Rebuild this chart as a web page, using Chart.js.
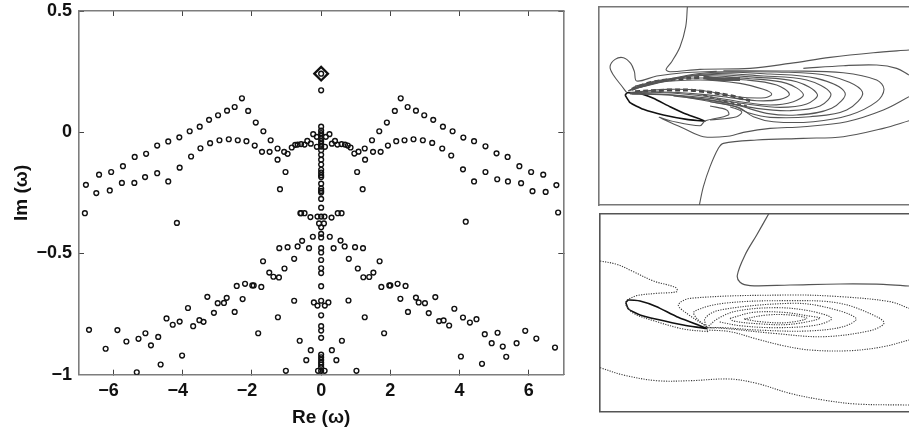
<!DOCTYPE html>
<html>
<head>
<meta charset="utf-8">
<script src="https://cdn.jsdelivr.net/npm/chart.js@4/dist/chart.umd.min.js"></script>
<style>
    html, body { margin: 0; padding: 0; background: #fff; width: 909px; height: 431px; overflow: hidden; }
    canvas { position: absolute; filter: blur(0.35px); }
</style>
</head>
<body>
<canvas id="spectrum" width="580" height="431" style="left:0;top:0"></canvas>
<canvas id="modeTop" width="319" height="215" style="left:590px;top:0"></canvas>
<canvas id="modeBottom" width="319" height="215" style="left:590px;top:205px"></canvas>
<script>
// spectrum eigenvalues, [Re, Im]
const upperLeft = [[-6.80,-0.217],[-6.42,-0.175],[-6.07,-0.164],[-5.73,-0.140],[-5.39,-0.102],[-5.06,-0.089],[-4.74,-0.055],[-4.42,-0.038],[-4.10,-0.021],[-3.80,0.004],[-3.51,0.023],[-3.24,0.051],[-2.98,0.070],[-2.72,0.089],[-2.50,0.104],[-2.29,0.140],[-2.11,0.088],[-1.89,0.040],[-1.67,0.004],[-1.46,-0.033],[-1.26,-0.067],[-1.07,-0.081],[-0.97,-0.089],[-0.85,-0.063],[-0.75,-0.052],[-0.68,-0.051]];
const lowerLeft = [[-6.50,-0.251],[-6.11,-0.240],[-5.76,-0.209],[-5.40,-0.209],[-5.09,-0.185],[-4.74,-0.169],[-4.42,-0.203],[-4.09,-0.146],[-3.76,-0.100],[-3.49,-0.066],[-3.21,-0.045],[-2.94,-0.033],[-2.67,-0.029],[-2.41,-0.033],[-2.16,-0.037],[-1.92,-0.055],[-1.71,-0.081],[-1.49,-0.081],[-1.26,-0.113],[-1.03,-0.164],[-1.19,-0.235],[-6.83,-0.334]];
const upperRight = [[1.26,-0.067],[1.47,-0.033],[1.68,0.004],[1.90,0.040],[2.13,0.088],[2.30,0.140],[2.50,0.104],[2.74,0.089],[2.98,0.070],[3.24,0.051],[3.52,0.023],[3.80,0.004],[4.11,-0.022],[4.42,-0.037],[4.75,-0.058],[5.07,-0.087],[5.39,-0.102],[5.73,-0.140],[6.07,-0.164],[6.42,-0.175],[6.80,-0.218],[6.85,-0.331]];
const lowerRight = [[1.50,-0.081],[1.72,-0.081],[1.93,-0.055],[2.17,-0.037],[2.41,-0.033],[2.67,-0.029],[2.94,-0.033],[3.21,-0.044],[3.50,-0.067],[3.76,-0.096],[4.10,-0.153],[4.42,-0.203],[4.75,-0.164],[5.09,-0.194],[5.40,-0.203],[5.78,-0.210],[6.11,-0.243],[6.49,-0.246],[1.27,-0.113],[1.04,-0.164],[1.20,-0.235]];
const innerArch = [[1.08,-0.080],[0.96,-0.088],[0.85,-0.063],[0.77,-0.055],[0.69,-0.051],[0.59,-0.049],[0.47,-0.051],[0.40,-0.036],[0.31,-0.047],[0.24,-0.008],[0.135,-0.019],[0.11,-0.060],[-0.23,-0.008],[-0.125,-0.019],[-0.125,-0.060],[-0.30,-0.047],[-0.40,-0.036],[-0.48,-0.051],[-0.58,-0.049]];
const centerColumn = [[0,0.173],[0,0.2415],[0,0.023],[0,0.007],[0,-0.004],[0,-0.015],[0,-0.026],[0,-0.037],[0,-0.048],[0,-0.059],[0,-0.074],[0,-0.093],[0,-0.113],[0,-0.133],[0,-0.155],[0,-0.166],[0,-0.177],[0,-0.185],[0,-0.212],[0,-0.232],[0,-0.242],[0,-0.249],[0,-0.275],[0,-0.311],[0,-0.348],[0,-0.392],[0,-0.419],[0,-0.434],[0,-0.478],[0,-0.496],[0,-0.527],[0,-0.561],[0,-0.581],[0,-0.635],[0,-0.695],[0,-0.755],[0,-0.800],[0,-0.818],[0,-0.848],[0,-0.917],[0,-0.928],[0,-0.939],[0,-0.950],[0,-0.959],[0,-0.969],[0,-0.984]];
const middleRows = [[-0.58,-0.334],[-0.48,-0.334],[0.48,-0.334],[0.59,-0.334],[-0.31,-0.350],[-0.106,-0.348],[0.096,-0.348],[0.30,-0.352],[-0.06,-0.376],[0.08,-0.376],[-0.24,-0.431],[0.25,-0.431],[-0.55,-0.448],[0.56,-0.447],[-0.35,-0.478],[0.36,-0.478],[0.68,-0.471],[0.98,-0.474],[1.21,-0.478],[0.80,-0.522],[1.06,-0.562],[-0.21,-0.702],[-0.106,-0.715],[0.106,-0.715],[0.21,-0.702],[0.79,-0.694],[0.60,-0.860],[0.31,-0.899],[-0.30,-0.899],[-0.43,-0.940],[0.44,-0.940],[-0.09,-0.984],[0.10,-0.984],[1.02,-0.984],[1.26,-0.763],[1.82,-0.829],[-0.6,-0.334],[4.18,-0.369],[-4.17,-0.374]];
const fanRight = [[1.69,-0.532],[1.22,-0.598],[1.39,-0.597],[1.51,-0.579],[1.74,-0.638],[1.97,-0.632],[2.00,-0.632],[2.21,-0.625],[2.44,-0.634],[2.29,-0.687],[2.74,-0.682],[2.82,-0.702],[3.00,-0.705],[3.30,-0.680],[2.51,-0.741],[3.11,-0.746],[3.41,-0.779],[3.54,-0.776],[3.70,-0.797],[3.85,-0.728],[4.10,-0.764],[4.30,-0.785],[4.49,-0.771],[4.73,-0.833],[5.10,-0.827],[4.93,-0.870],[5.25,-0.884],[5.65,-0.870],[5.90,-0.819],[6.22,-0.851],[6.76,-0.888],[5.35,-0.926],[4.04,-0.925],[4.65,-0.955]];
const fanLeft = [[-6.71,-0.815],[-6.23,-0.893],[-5.89,-0.816],[-5.63,-0.863],[-5.28,-0.852],[-5.08,-0.829],[-4.92,-0.879],[-4.71,-0.844],[-4.47,-0.768],[-4.29,-0.794],[-4.09,-0.781],[-3.85,-0.725],[-3.70,-0.800],[-3.52,-0.775],[-3.40,-0.782],[-3.29,-0.679],[-3.10,-0.745],[-2.99,-0.705],[-2.81,-0.704],[-2.73,-0.683],[-2.50,-0.741],[-2.27,-0.688],[-2.44,-0.634],[-2.20,-0.625],[-1.99,-0.632],[-1.95,-0.632],[-1.73,-0.638],[-1.82,-0.829],[-1.68,-0.532],[-1.50,-0.579],[-1.38,-0.596],[-1.22,-0.599],[-1.06,-0.562],[-0.78,-0.522],[-1.21,-0.478],[-0.97,-0.474],[-0.68,-0.471],[-0.78,-0.695],[-1.25,-0.763],[-0.62,-0.860],[-1.02,-0.984],[-4.02,-0.921],[-4.64,-0.958],[-5.33,-0.990]];
const unstableMode = [[0,0.2415]];

const xTicks = [-6, -4, -2, 0, 2, 4, 6];
// figure space keeps the digit, not the minus sign, over the tick like in the original
const xTickLabels = ['\u22126\u2007', '\u22124\u2007', '\u22122\u2007', '0', '2', '4', '6'];
const yTicks = [-1, -0.5, 0, 0.5];
const yTickLabels = ['\u22121', '\u22120.5', '0', '0.5'];

// upper mode plot, contours in picture units
const topFoil = [[105,285],[112,278],[150,280],[190,295],[240,320],[290,343],[345,363],[290,358],[220,345],[160,328],[120,308],[105,285]];
const topLobe = [[110,278],[95,258],[70,225],[60,200],[75,178],[100,173],[122,190],[133,215],[140,243],[200,228],[280,218],[380,214]];
const topFarLine = [[292,20],[287,80],[270,140],[245,185],[228,208],[240,215],[330,208],[480,205],[600,190],[720,172],[850,158],[957,150]];
const topBottomLine = [[328,615],[340,560],[360,500],[385,445],[400,430],[500,420],[640,415],[760,410],[880,385],[957,362]];
const contour1 = [[115,272],[200,248],[330,240],[450,250],[520,268],[545,282],[525,293],[440,290],[340,272],[230,268],[120,278]];
const contour2 = [[115,272],[200,242],[330,234],[470,240],[560,255],[598,282],[570,298],[500,302],[400,290],[300,280],[200,275],[118,280]];
const contour3 = [[120,270],[300,228],[480,236],[590,250],[640,283],[610,305],[540,315],[450,305],[340,288],[220,278],[120,282]];
const contour4 = [[125,268],[330,225],[500,232],[620,245],[682,283],[650,312],[570,322],[470,312],[360,295],[250,285],[125,280]];
const contour5 = [[130,262],[340,222],[520,228],[650,240],[722,280],[690,318],[600,332],[500,325],[380,303],[250,286],[125,282]];
const contour6 = [[135,258],[350,218],[540,222],[680,235],[765,278],[725,325],[620,345],[530,340],[440,315],[340,298],[250,288]];
const contour7 = [[360,216],[560,216],[720,228],[817,275],[770,330],[660,350],[540,352],[480,340],[430,318],[380,308],[290,292]];
const contour8 = [[400,212],[600,213],[760,218],[860,240],[882,268],[860,305],[780,345],[670,365],[550,365],[490,350],[445,322],[360,305]];
const contour9 = [[640,205],[760,197],[860,195],[920,205],[957,225]];
const contour9Back = [[957,290],[880,330],[770,365],[640,380],[540,385],[460,397],[420,408],[340,410],[280,385],[208,352],[240,362],[330,377],[345,363],[415,345],[410,330],[360,318]];
const innerHook = [[360,360],[440,350],[455,335],[420,320]];
const denseCore = [[340,232],[380,237],[450,237]];
const hatchRow1 = [[125,268],[180,248],[250,238],[330,232]];
const hatchRow2 = [[135,275],[240,270],[320,272],[420,287],[480,302]];
const hatchRow3 = [[340,285],[400,302],[470,318]];

// lower mode plot
const lowFoil = [[107,292],[115,285],[150,288],[200,305],[260,335],[350,370],[280,360],[200,343],[150,330],[115,312],[107,292]];
const lowSolid = [[537,25],[500,90],[465,150],[442,210],[450,232],[480,242],[600,240],[750,237],[880,238],[957,243]];
const lowDotLeft = [[30,168],[80,178],[130,200],[190,228],[258,248],[260,260],[200,265],[140,272],[110,285]];
const lowDotFoil = [[107,300],[130,325],[200,350],[280,372],[355,380]];
const lowDotWake = [[350,375],[420,380],[500,402],[580,422],[660,435],[780,437],[880,425],[957,405]];
const lowDotOuter = [[350,365],[290,325],[265,300],[300,280],[600,270],[750,275],[900,290],[957,310]];
const lowDot2 = [[350,365],[320,340],[312,320],[400,295],[600,287],[750,295],[860,335],[882,355],[840,377],[700,395],[550,385],[400,370],[350,368]];
const lowDot3 = [[350,368],[345,340],[390,315],[600,295],[700,305],[798,340],[760,365],[650,378],[500,375],[400,368],[350,368]];
const lowDot4 = [[350,368],[385,340],[440,318],[560,308],[660,318],[725,340],[680,360],[560,368],[450,362],[385,350]];
const lowDot5 = [[420,340],[490,322],[580,322],[650,332],[690,340],[600,358],[500,356],[430,348],[420,340]];
const lowDot6 = [[462,342],[530,330],[600,330],[650,340],[590,353],[510,350],[462,342]];
const lowDotFar = [[30,488],[100,510],[200,527],[300,527],[420,522],[500,535],[600,565],[700,585],[800,597],[957,600]];

const toPoints = list => list.map(p => ({ x: p[0], y: p[1] }));
const boldFont = { family: "'Liberation Sans', Arial, sans-serif", size: 18, weight: 'bold' };
const titleFont = { family: "'Liberation Sans', Arial, sans-serif", size: 19, weight: 'bold' };
const frameColor = '#7d7d7d';
const tickColor = '#444';

// tick labels must not push the plot area around
function noPadding(s) {
    s.paddingTop = 0;
    s.paddingBottom = 0;
    s.paddingLeft = 0;
    s.paddingRight = 0;
}

// secondary axes only carry the frame and the inward ticks
function frameAxis(position, ticks, fit) {
    return {
        type: 'linear',
        position: position,
        afterFit: fit,
        afterBuildTicks: s => { s.ticks = ticks.map(v => ({ value: v })); },
        border: { display: true, color: frameColor, width: 1.6 },
        grid: { drawOnChartArea: false, tickLength: -5, tickColor: tickColor, tickWidth: 1 },
        ticks: { display: false }
    };
}

const scatterSets = [upperLeft, lowerLeft, upperRight, lowerRight, innerArch, centerColumn, middleRows, fanRight, fanLeft];

new Chart(document.getElementById('spectrum'), {
    type: 'scatter',
    data: {
        datasets: [
            {
                data: toPoints(scatterSets.flat()),
                pointStyle: 'circle',
                pointRadius: 2.4,
                borderColor: '#111',
                borderWidth: 1.4,
                backgroundColor: 'rgba(0,0,0,0)'
            },
            {
                data: toPoints(unstableMode),
                pointStyle: 'rectRot',
                pointRadius: 6.8,
                borderColor: '#111',
                borderWidth: 2.3,
                backgroundColor: 'rgba(0,0,0,0)'
            }
        ]
    },
    options: {
        responsive: false,
        animation: false,
        layout: { autoPadding: false, padding: { top: 11, right: 16.7, left: 0, bottom: 0 } },
        plugins: { legend: { display: false }, tooltip: { enabled: false } },
        scales: {
            x: {
                type: 'linear',
                min: -7,
                max: 7,
                afterFit: s => { s.height = 56.3; noPadding(s); },
                afterBuildTicks: s => { s.ticks = xTicks.map(v => ({ value: v })); },
                border: { color: frameColor, width: 1.6 },
                grid: { drawOnChartArea: false, tickLength: -5, tickColor: tickColor },
                ticks: { color: '#111', font: boldFont, padding: 11, maxRotation: 0, autoSkip: false, callback: (v, i) => xTickLabels[i] },
                title: { display: true, text: 'Re (\u03c9)', color: '#111', font: titleFont, padding: { top: 6, bottom: 2 } }
            },
            y: {
                type: 'linear',
                min: -1,
                max: 0.5,
                afterFit: s => { s.width = 79; noPadding(s); },
                afterBuildTicks: s => { s.ticks = yTicks.map(v => ({ value: v })); },
                border: { color: frameColor, width: 1.6 },
                grid: { drawOnChartArea: false, tickLength: -5, tickColor: tickColor },
                ticks: { color: '#111', font: boldFont, padding: 12, autoSkip: false, callback: (v, i) => yTickLabels[i] },
                title: { display: true, text: 'Im (\u03c9)', color: '#111', font: titleFont, padding: { top: 10, bottom: 0 } }
            },
            x2: Object.assign(frameAxis('top', xTicks, s => { s.height = 0; noPadding(s); }), { min: -7, max: 7 }),
            y2: Object.assign(frameAxis('right', yTicks, s => { s.width = 0; noPadding(s); }), { min: -1, max: 0.5 })
        }
    }
});

function lineSet(list, width, color, dash) {
    return {
        data: toPoints(list),
        showLine: true,
        tension: 0.35,
        pointRadius: 0,
        borderWidth: width,
        borderColor: color,
        borderDash: dash || []
    };
}

// contour panels: picture-unit scales, frame on left/top/bottom, right edge runs off the page
function drawPanel(id, pad, xRange, yRange, sets, frame) {
    new Chart(document.getElementById(id), {
        type: 'scatter',
        data: { datasets: sets },
        options: {
            responsive: false,
            animation: false,
            layout: { autoPadding: false, padding: pad },
            plugins: { legend: { display: false }, tooltip: { enabled: false } },
            scales: {
                x: {
                    type: 'linear', min: xRange[0], max: xRange[1],
                    afterFit: s => { s.height = 0; },
                    border: { color: frame, width: 1.6 },
                    grid: { display: false }, ticks: { display: false }
                },
                y: {
                    type: 'linear', min: yRange[0], max: yRange[1], reverse: true,
                    afterFit: s => { s.width = 0; },
                    border: { color: frame, width: 1.6 },
                    grid: { display: false }, ticks: { display: false }
                },
                x2: {
                    type: 'linear', position: 'top', min: xRange[0], max: xRange[1],
                    afterFit: s => { s.height = 0; },
                    border: { color: frame, width: 1.6 },
                    grid: { display: false }, ticks: { display: false }
                }
            }
        }
    });
}

const lineCol = '#555';
const topSets = [
    lineSet(topFarLine, 1.1, lineCol), lineSet(topBottomLine, 1.1, lineCol), lineSet(topLobe, 1.1, lineCol),
    lineSet(contour1, 1.1, lineCol), lineSet(contour2, 1.1, lineCol), lineSet(contour3, 1.1, lineCol),
    lineSet(contour4, 1.1, lineCol), lineSet(contour5, 1.1, lineCol), lineSet(contour6, 1.1, lineCol),
    lineSet(contour7, 1.1, lineCol), lineSet(contour8, 1.1, lineCol), lineSet(contour9, 1.1, lineCol),
    lineSet(contour9Back, 1.1, lineCol), lineSet(innerHook, 1.1, lineCol),
    lineSet(hatchRow1, 3, '#444', [5, 3]), lineSet(hatchRow2, 3, '#444', [5, 3]), lineSet(hatchRow3, 2, '#555', [4, 3]),
    lineSet(denseCore, 4, '#555'),
    Object.assign(lineSet(topFoil, 1.6, '#111'), { tension: 0.15 })
];
const dots = [1.2, 1.3];
const dotCol = '#3a3a3a';
const bottomSets = [
    lineSet(lowSolid, 1.2, lineCol),
    lineSet(lowDotLeft, 1.1, dotCol, dots), lineSet(lowDotFoil, 1.1, dotCol, dots), lineSet(lowDotWake, 1.1, dotCol, dots),
    lineSet(lowDotOuter, 1.1, dotCol, dots), lineSet(lowDot2, 1.1, dotCol, dots), lineSet(lowDot3, 1.1, dotCol, dots),
    lineSet(lowDot4, 1.1, dotCol, dots), lineSet(lowDot5, 1.1, dotCol, dots), lineSet(lowDot6, 1.1, dotCol, dots),
    lineSet(lowDotFar, 1.1, dotCol, dots),
    Object.assign(lineSet(lowFoil, 1.6, '#111'), { tension: 0.15 })
];

drawPanel('modeTop', { left: 8.4, top: 6.7, right: 0, bottom: 10 }, [25, 957], [20, 615], topSets, '#777');
drawPanel('modeBottom', { left: 9.4, top: 8.3, right: 0, bottom: 8.3 }, [28, 957], [25, 620], bottomSets, '#555');
</script>
</body>
</html>
